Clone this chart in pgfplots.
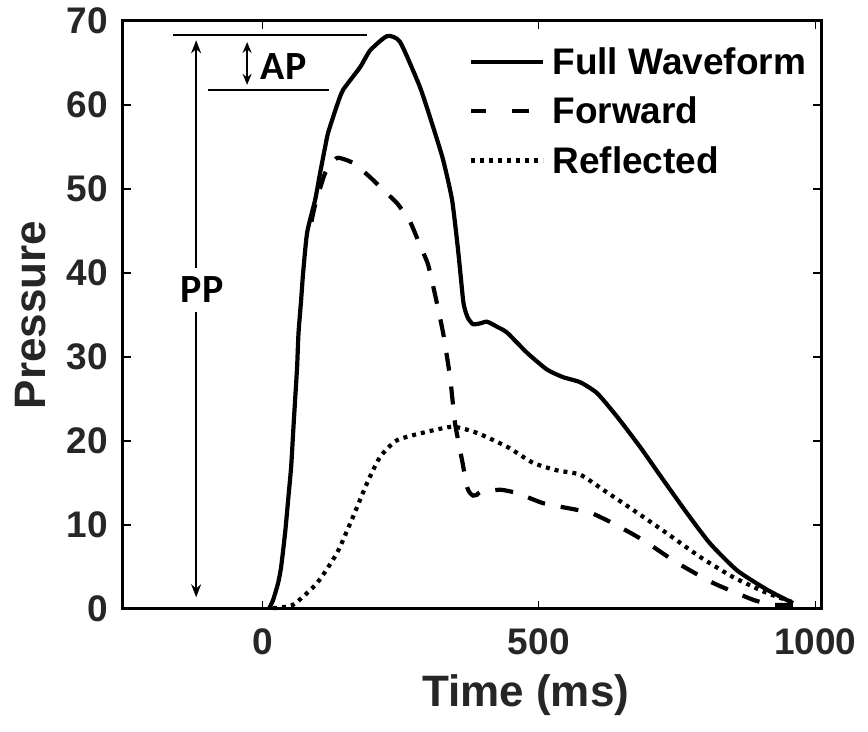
\documentclass[border=0pt]{standalone}
\usepackage{fontspec}
\setmainfont{Liberation Sans}
\newfontfamily\calfont{Carlito}
\usepackage{pgfplots}
\pgfplotsset{compat=1.18}
\usetikzlibrary{arrows.meta}
\definecolor{tickgray}{RGB}{38,38,38}

\begin{document}
\begin{tikzpicture}
\begin{axis}[
  name=ax,
  axis line style={line width=3pt},
  scale only axis, width=698pt, height=588pt,
  xmin=-252, xmax=1010.5, ymin=0, ymax=70,
  xtick={0,500,1000}, ytick={0,10,20,30,40,50,60,70},
  tick align=inside, major tick length=8pt,
  tick style={black, line width=1.2pt},
  /pgf/number format/assume math mode=true,
  /pgf/number format/set thousands separator={},
  ticklabel style={font=\fontsize{37}{37}\selectfont\bfseries, text=tickgray},
  xticklabel style={inner sep=0pt, yshift=-19pt},
  yticklabel style={inner sep=0pt, xshift=-15pt},
  xlabel={Time (ms)}, ylabel={Pressure},
  label style={font=\fontsize{44}{44}\selectfont\bfseries, text=tickgray},
  xlabel style={at={(axis description cs:0.577,-0.1463)}, anchor=center},
  ylabel style={at={(axis description cs:-0.1318,0.5)}, anchor=center},
  clip=false,
  legend cell align=left,
  legend image code/.code={\draw[#1] (0pt,0pt) -- (72pt,0pt);},
  legend style={draw=none, fill=none, at={(rel axis cs:0.4957,0.955)}, anchor=north west,
    font=\fontsize{37}{37}\selectfont\bfseries, inner sep=0pt, row sep=21pt,
    nodes={inner sep=0pt},
    /tikz/every odd column/.append style={column sep=7pt}},
]
% Full waveform
\addplot[black, line width=4.2pt, line join=round, smooth, tension=0.35] coordinates {
(12,0) (19.5,1.07) (28.6,3.10) (34.0,5.0) (41.2,9.05) (46.7,12.98) (52.1,16.9)
(55.7,20.95) (59.3,24.9) (62.9,28.8) (65.5,32.9) (70.2,36.8) (73.8,40.0) (81.0,44.8)
(95.5,48.7) (104.5,51.9) (113.6,55.0) (119.0,56.7) (135.3,60.0) (146.1,61.8)
(176.9,64.5) (195.0,66.5) (225.7,68.2) (249.2,67.5) (285.3,62.1) (308.8,57.4)
(326.9,53.5) (343.2,48.7) (354.1,42.7) (363.1,36.8) (366.7,35.6) (372.2,34.6)
(381.2,33.9) (393.9,34.0) (406.5,34.2) (424.6,33.6) (442.7,32.9) (478.8,30.5)
(515.0,28.5) (543.9,27.6) (574.7,27.0) (605.4,25.7) (641.6,22.9) (683.2,19.3)
(724.8,15.4) (768.2,11.4) (809.8,7.8) (858.6,4.6) (912.8,2.3) (959.8,0.7)
};
\addlegendentry{Full Waveform}
% Forward
\addplot[black, line width=4.2pt, dash pattern=on 18pt off 16pt, smooth, tension=0.3,
  legend image code/.code={\draw[black, line width=4.2pt, dash pattern=on 15pt off 26pt on 17pt off 100pt] (0pt,0pt) -- (72pt,0pt);}] coordinates {
(88.8,46.1) (95.5,48.1) (113.6,51.9) (135.3,53.7) (164.2,53.1) (195.0,51.4)
(218.5,49.9) (243.8,48.3) (267.3,46.1) (285.3,43.3) (299.8,41.0) (312.5,37.4)
(326.9,32.9) (339.6,27.6) (348.6,22.1) (361.3,17.7) (370.3,14.5) (375.8,13.8)
(381.2,13.5) (388.4,13.6) (393.9,13.9) (430.0,14.2) (460.8,13.8) (507.8,12.6)
(569.3,11.8) (592.8,11.5) (634.4,10.2) (688.7,8.2) (750.1,5.5) (815.2,3.1)
(887.6,1.1) (923.7,0.5) (959.8,0.5)
};
\addlegendentry{Forward}
% Reflected
\addplot[black, line width=4.2pt, line cap=butt, dash pattern=on 4pt off 5pt, smooth, tension=0.35] coordinates {
(19.5,0.1) (55.7,0.5) (99.1,3.1) (135.3,6.7) (164.2,11.0) (189.5,15.0) (213.0,18.1)
(243.8,20.1) (298.0,21.1) (345.4,21.7) (388.8,20.95) (443.0,19.3) (489.7,17.4)
(533.1,16.5) (574.7,16.0) (616.3,14.2) (670.5,11.8) (732.0,9.0) (791.7,6.2)
(851.4,3.8) (912.8,1.9) (959.8,0.8)
};
\addlegendentry{Reflected}
% annotations
\draw[black, line width=1.6pt] (axis cs:-161.3,68.3) -- (axis cs:189.5,68.3);
\draw[black, line width=1.6pt] (axis cs:-98.0,61.8) -- (axis cs:120.8,61.8);
\draw[black, line width=1.6pt, {Stealth[length=13pt,width=10pt]}-{Stealth[length=13pt,width=10pt]}] (axis cs:-119.7,67.7) -- (axis cs:-119.7,1.4);
\draw[black, line width=1.6pt, {Stealth[length=11pt,width=9pt]}-{Stealth[length=11pt,width=9pt]}] (axis cs:-27.5,67.5) -- (axis cs:-27.5,62.4);
\node[fill=white, inner xsep=1pt, inner ysep=9pt, font=\calfont\fontsize{40}{40}\selectfont\bfseries] at (axis cs:-109,38.0) {PP};
\node[inner sep=0pt, font=\calfont\fontsize{40}{40}\selectfont\bfseries] at (axis cs:38.5,64.6) {AP};
\end{axis}
\pgfresetboundingbox
\path[use as bounding box] ([xshift=-123pt,yshift=-123pt]ax.south west) rectangle ([xshift=47pt,yshift=21pt]ax.north east);
\end{tikzpicture}
\end{document}
